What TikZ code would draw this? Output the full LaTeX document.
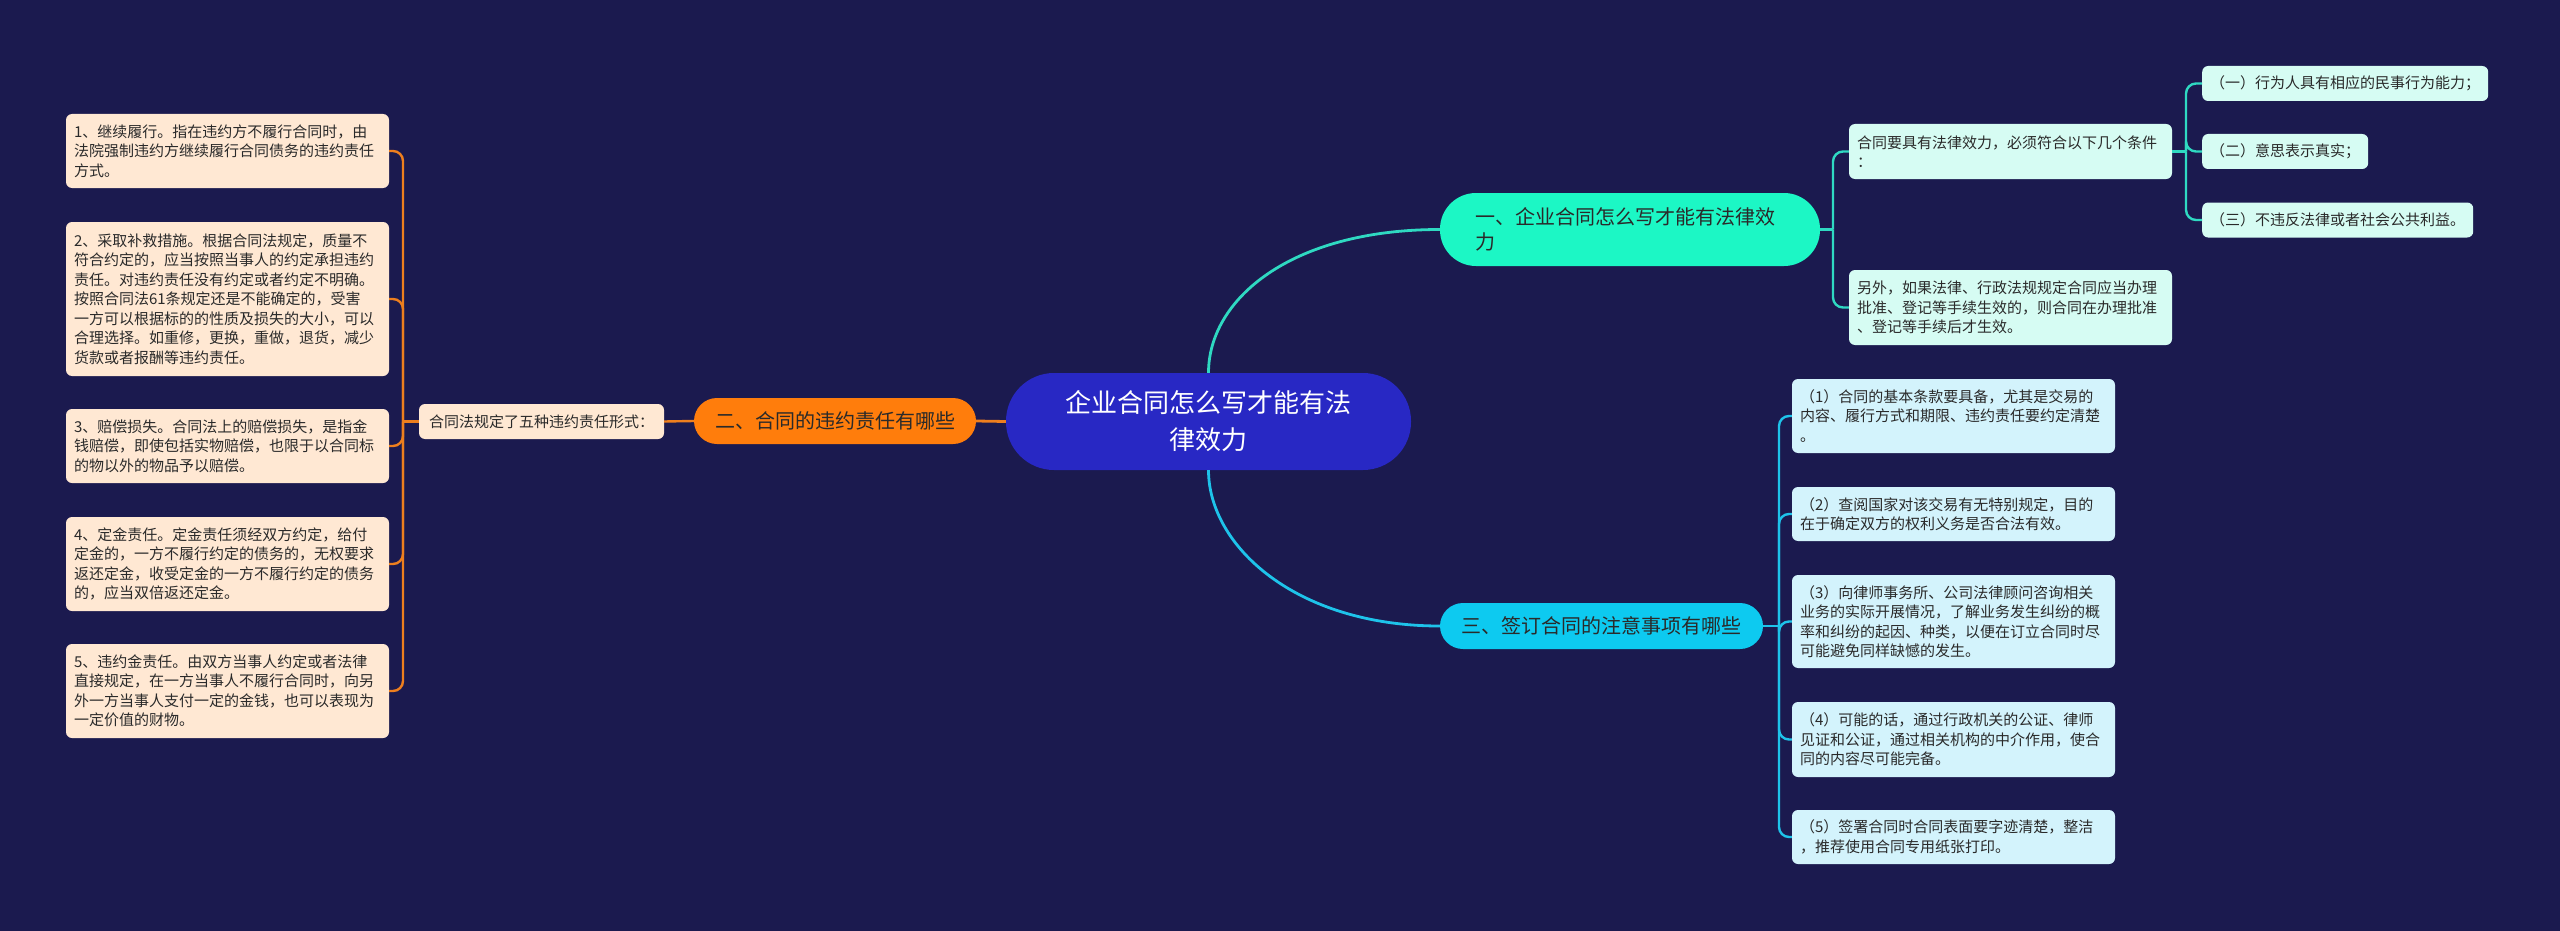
\documentclass[tikz,border=0pt]{standalone}
\usepackage{fontspec}
\setmainfont{Noto Sans CJK SC}
\definecolor{bg}{HTML}{1B1A4F}
\definecolor{centerfill}{HTML}{2828C4}
\definecolor{tealfill}{HTML}{1CF7C5}
\definecolor{tealline}{HTML}{2FD9C2}
\definecolor{tealleaf}{HTML}{D6FCF3}
\definecolor{orangefill}{HTML}{FF7D0C}
\definecolor{orangeline}{HTML}{EE7F1E}
\definecolor{peachleaf}{HTML}{FFE8D3}
\definecolor{cyanfill}{HTML}{0DCAF0}
\definecolor{cyanline}{HTML}{1EC3EA}
\definecolor{cyanleaf}{HTML}{D3F3FC}
\definecolor{darktext}{HTML}{2A2A2A}
\begin{document}
\begin{tikzpicture}[x=1pt,y=-1pt,
  leafbase/.style={rectangle, rounded corners=6pt, inner xsep=8pt, inner ysep=0pt,
    text width=307pt, align=left, text=darktext, font=\fontsize{15pt}{19.5pt}\selectfont},
  peachleafbox/.style={leafbase, fill=peachleaf},
  cyanleafbox/.style={leafbase, fill=cyanleaf},
  tealleafbox/.style={leafbase, fill=tealleaf},
  smallbox/.style={rectangle, rounded corners=6pt, inner xsep=8pt, inner ysep=0pt,
    minimum height=35pt, text=darktext, font=\fontsize{15pt}{19.5pt}\selectfont},
  branchbox/.style={rectangle, rounded corners=23pt, inner ysep=0pt, minimum height=46pt,
    text=darktext, font=\fontsize{20pt}{25pt}\selectfont},
  mainline/.style={line width=2.8pt},
  brline/.style={line width=2.4pt, rounded corners=10pt}
]
\useasboundingbox (0,0) rectangle (2560,931);
\fill[bg] (0,0) rectangle (2560,931);

% center
\node[rectangle, rounded corners=48pt, fill=centerfill, text=white, minimum width=405pt,
  minimum height=97pt, inner sep=0pt, align=center, font=\fontsize{26pt}{37pt}\selectfont]
  (c) at (1208.5,421.5) {企业合同怎么写才能有法\\律效力};

% branch 1
\node[rectangle, rounded corners=36pt, fill=tealfill, text=darktext, inner xsep=35pt, inner ysep=0pt,
  text width=310pt, minimum height=73pt, align=left, font=\fontsize{20pt}{25pt}\selectfont]
  (b1) at (1630,229.5) {一、企业合同怎么写才能有法律效\\力};
\node[tealleafbox, minimum height=55pt] (a) at (2010.5,151.5)
  {合同要具有法律效力，必须符合以下几个条件\\：};
\node[tealleafbox, minimum height=75pt] (b) at (2010.5,307.5)
  {另外，如果法律、行政法规规定合同应当办理\\批准、登记等手续生效的，则合同在办理批准\\、登记等手续后才生效。};
\node[smallbox, fill=tealleaf, anchor=west] (g1) at (2202,83.5) {（一）行为人具有相应的民事行为能力；};
\node[smallbox, fill=tealleaf, anchor=west] (g2) at (2202,151.5) {（二）意思表示真实；};
\node[smallbox, fill=tealleaf, anchor=west] (g3) at (2202,220) {（三）不违反法律或者社会公共利益。};

% branch 2
\node[branchbox, fill=orangefill, minimum width=282pt] (b2) at (835,421) {二、合同的违约责任有哪些};
\node[smallbox, fill=peachleaf, minimum width=245pt] (k) at (541.5,421.5) {合同法规定了五种违约责任形式：};
\node[peachleafbox, minimum height=74pt] (l1) at (227.5,151)
  {1、继续履行。指在违约方不履行合同时，由\\法院强制违约方继续履行合同债务的违约责任\\方式。};
\node[peachleafbox, minimum height=154pt] (l2) at (227.5,299)
  {2、采取补救措施。根据合同法规定，质量不\\符合约定的，应当按照当事人的约定承担违约\\责任。对违约责任没有约定或者约定不明确。\\按照合同法61条规定还是不能确定的，受害\\一方可以根据标的的性质及损失的大小，可以\\合理选择。如重修，更换，重做，退货，减少\\货款或者报酬等违约责任。};
\node[peachleafbox, minimum height=74pt] (l3) at (227.5,446)
  {3、赔偿损失。合同法上的赔偿损失，是指金\\钱赔偿，即使包括实物赔偿，也限于以合同标\\的物以外的物品予以赔偿。};
\node[peachleafbox, minimum height=94pt] (l4) at (227.5,564)
  {4、定金责任。定金责任须经双方约定，给付\\定金的，一方不履行约定的债务的，无权要求\\返还定金，收受定金的一方不履行约定的债务\\的，应当双倍返还定金。};
\node[peachleafbox, minimum height=94pt] (l5) at (227.5,691)
  {5、违约金责任。由双方当事人约定或者法律\\直接规定，在一方当事人不履行合同时，向另\\外一方当事人支付一定的金钱，也可以表现为\\一定价值的财物。};

% branch 3
\node[branchbox, fill=cyanfill, minimum width=323pt] (b3) at (1601.5,626) {三、签订合同的注意事项有哪些};
\node[cyanleafbox, minimum height=74pt] (r1) at (1953.5,416)
  {（1）合同的基本条款要具备，尤其是交易的\\内容、履行方式和期限、违约责任要约定清楚\\。};
\node[cyanleafbox, minimum height=54pt] (r2) at (1953.5,514)
  {（2）查阅国家对该交易有无特别规定，目的\\在于确定双方的权利义务是否合法有效。};
\node[cyanleafbox, minimum height=93pt] (r3) at (1953.5,621.5)
  {（3）向律师事务所、公司法律顾问咨询相关\\业务的实际开展情况，了解业务发生纠纷的概\\率和纠纷的起因、种类，以便在订立合同时尽\\可能避免同样缺憾的发生。};
\node[cyanleafbox, minimum height=75pt] (r4) at (1953.5,739.5)
  {（4）可能的话，通过行政机关的公证、律师\\见证和公证，通过相关机构的中介作用，使合\\同的内容尽可能完备。};
\node[cyanleafbox, minimum height=54pt] (r5) at (1953.5,837)
  {（5）签署合同时合同表面要字迹清楚，整洁\\，推荐使用合同专用纸张打印。};

% junctions
\coordinate (j1) at (1833,229.5);
\coordinate (ja) at (2186,151.5);
\coordinate (j2) at (403,421.5);
\coordinate (j3) at (1779,626);

% main connectors
\draw[mainline, tealline] (c.north) .. controls +(0,-73) and +(-150,0) .. (b1.west);
\draw[mainline, cyanline] (c.south) .. controls +(0,75) and +(-145,0) .. (b3.west);
\draw[mainline, orangeline] (c.west) -- (b2.east);

% branch 1 connectors
\draw[brline, tealline] (b1.east) -- (j1);
\draw[brline, tealline] (j1) |- (a.west);
\draw[brline, tealline] (j1) |- (b.west);
\draw[brline, tealline] (a.east) -- (ja);
\draw[brline, tealline] (ja) |- (g1.west);
\draw[brline, tealline] (ja) |- (g2.west);
\draw[brline, tealline] (ja) |- (g3.west);

% branch 2 connectors
\draw[brline, orangeline] (b2.west) -- (k.east);
\draw[brline, orangeline] (k.west) -- (j2);
\foreach \n in {l1,l2,l3,l4,l5} \draw[brline, orangeline] (j2) |- (\n.east);

% branch 3 connectors
\draw[brline, cyanline] (b3.east) -- (j3);
\foreach \n in {r1,r2,r3,r4,r5} \draw[brline, cyanline] (j3) |- (\n.west);
\end{tikzpicture}
\end{document}
